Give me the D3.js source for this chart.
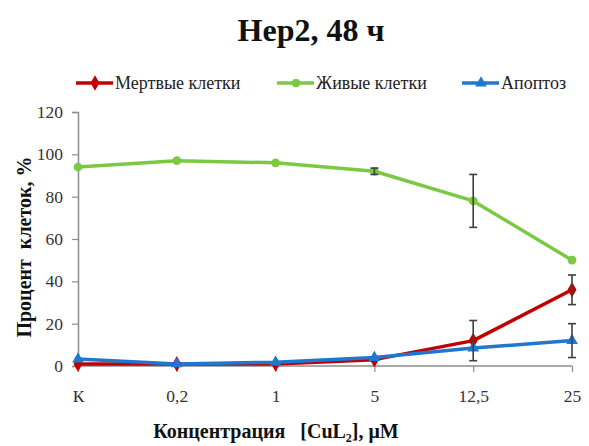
<!DOCTYPE html>
<html>
<head>
<meta charset="utf-8">
<script src="https://cdn.jsdelivr.net/npm/d3@7"></script>
<style>
  html, body { margin: 0; padding: 0; background: #fff; }
  svg { display: block; }
  text { font-family: "Liberation Serif", "DejaVu Serif", serif; white-space: pre; }
</style>
</head>
<body>
<svg id="chart" width="589" height="446"></svg>
<script>
// Concentration categories
const categories = ["К", "0,2", "1", "5", "12,5", "25"];
const yTicks = [0, 20, 40, 60, 80, 100, 120];

// Percentage of cells per category, with standard deviations
const deadValues  = [1, 1, 1, 3, 12, 36];
const deadErr     = [0, 0, 0, 0, 9.5, 7];
const aliveValues = [94, 97, 96, 92, 78, 50];
const aliveErr    = [0, 0, 0, 1.5, 12.5, 0];
const apoptValues = [3.3, 1, 1.8, 4, 8.5, 12];
const apoptErr    = [0, 0, 0, 0, 0, 8];

const seriesNames = ["Мертвые клетки", "Живые клетки", "Апоптоз"];
const seriesColors = ["#c00000", "#7ac943", "#1f77d0"];
const seriesMarkers = [d3.symbolDiamond, d3.symbolCircle, d3.symbolTriangle];

const FONT = "'Liberation Serif', 'DejaVu Serif', serif";

const series = [
  { name: seriesNames[0], values: deadValues,  err: deadErr,  color: seriesColors[0], marker: seriesMarkers[0], size: 70 },
  { name: seriesNames[1], values: aliveValues, err: aliveErr, color: seriesColors[1], marker: seriesMarkers[1], size: 60 },
  { name: seriesNames[2], values: apoptValues, err: apoptErr, color: seriesColors[2], marker: seriesMarkers[2], size: 60 }
];

const svg = d3.select("#chart");
const x = d3.scalePoint().domain(categories).range([78, 572]).padding(0);
const y = d3.scaleLinear().domain([0, 120]).range([366, 112]);
const axisColor = "#8c8c8c";

// Title
svg.append("text")
  .attr("x", 311).attr("y", 41)
  .attr("text-anchor", "middle")
  .style("font-family", FONT)
  .attr("font-size", 32).attr("font-weight", "bold")
  .attr("fill", "#111")
  .text("Hep2, 48 ч");

// Y axis
const yAxis = svg.append("g")
  .attr("transform", `translate(${x(categories[0])},0)`)
  .call(d3.axisLeft(y).tickValues(yTicks).tickSize(6).tickPadding(9));
yAxis.select(".domain").attr("stroke", axisColor).attr("stroke-width", 1.5);
yAxis.selectAll(".tick line").attr("stroke", axisColor).attr("stroke-width", 1.2);
yAxis.selectAll(".tick text")
  .style("font-family", FONT)
  .attr("font-size", 17.5).attr("fill", "#333");

// X axis
const xAxis = svg.append("g")
  .attr("transform", `translate(0,${y(0)})`)
  .call(d3.axisBottom(x).tickSize(6).tickPadding(18));
xAxis.select(".domain").attr("stroke", axisColor).attr("stroke-width", 1.5)
  .attr("d", `M${x(categories[0])},0H${x(categories[categories.length - 1])}`);
xAxis.selectAll(".tick line").attr("stroke", axisColor).attr("stroke-width", 1.2);
xAxis.selectAll(".tick text")
  .style("font-family", FONT)
  .attr("font-size", 17.5).attr("fill", "#333");

// Axis titles
svg.append("text")
  .attr("transform", "translate(31,247) rotate(-90)")
  .attr("text-anchor", "middle")
  .style("font-family", FONT)
  .attr("font-size", 20).attr("font-weight", "bold").attr("fill", "#111")
  .text("Процент  клеток, %");

const xt = svg.append("text")
  .attr("x", 276).attr("y", 438)
  .attr("text-anchor", "middle")
  .style("font-family", FONT)
  .attr("font-size", 20).attr("font-weight", "bold").attr("fill", "#111");
xt.append("tspan").text("Концентрация   [CuL");
xt.append("tspan").attr("font-size", 12).attr("dy", 4).text("2");
xt.append("tspan").attr("dy", -4).text("], μM");

// Lines
const line = d3.line().x((d, i) => x(categories[i])).y(d => y(d));
const plot = svg.append("g");
series.forEach(s => {
  plot.append("path")
    .datum(s.values)
    .attr("fill", "none")
    .attr("stroke", s.color)
    .attr("stroke-width", 3.5)
    .attr("stroke-linejoin", "round")
    .attr("d", line);
});

// Markers
series.forEach(s => {
  plot.selectAll(null)
    .data(s.values)
    .join("path")
    .attr("transform", (d, i) => `translate(${x(categories[i])},${y(d)})`)
    .attr("d", d3.symbol().type(s.marker).size(s.size))
    .attr("fill", s.color);
});

// Error bars
series.forEach(s => {
  s.values.forEach((v, i) => {
    const e = s.err[i];
    if (!e) return;
    const cx = x(categories[i]);
    const g = plot.append("g").attr("stroke", "#404040").attr("stroke-width", 1.6);
    g.append("line").attr("x1", cx).attr("x2", cx).attr("y1", y(v - e)).attr("y2", y(v + e));
    g.append("line").attr("x1", cx - 4).attr("x2", cx + 4).attr("y1", y(v - e)).attr("y2", y(v - e));
    g.append("line").attr("x1", cx - 4).attr("x2", cx + 4).attr("y1", y(v + e)).attr("y2", y(v + e));
  });
});

// Legend
const legendX = [76, 277, 462];
const legend = svg.append("g");
series.forEach((s, i) => {
  const g = legend.append("g").attr("transform", `translate(${legendX[i]},83)`);
  g.append("line").attr("x1", 0).attr("x2", 37).attr("y1", 0).attr("y2", 0)
    .attr("stroke", s.color).attr("stroke-width", 3.5);
  g.append("path").attr("transform", "translate(19,0)")
    .attr("d", d3.symbol().type(s.marker).size(s.size)).attr("fill", s.color);
  g.append("text").attr("x", 39).attr("y", 6)
    .style("font-family", FONT)
    .attr("font-size", 18).attr("fill", "#222")
    .text(s.name);
});
</script>
</body>
</html>
